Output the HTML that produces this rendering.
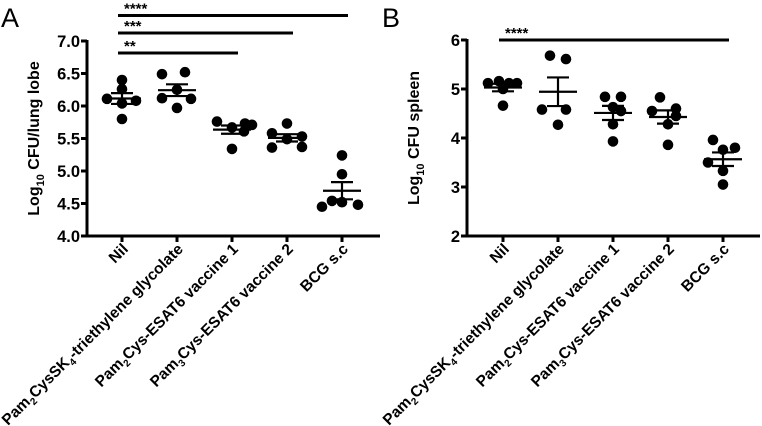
<!DOCTYPE html>
<html><head><meta charset="utf-8"><style>
html,body{margin:0;padding:0;background:#fff}
svg{display:block;font-family:"Liberation Sans",Arial,sans-serif}
</style></head><body>
<svg id="chart" width="762" height="426" viewBox="0 0 762 426"></svg>
<script>
const categories = ["Nil","Pam2CysSK4-triethylene glycolate","Pam2Cys-ESAT6 vaccine 1","Pam3Cys-ESAT6 vaccine 2","BCG s.c"];
const lungValues = [
 [6.40,6.26,6.11,6.08,6.04,5.80],
 [6.49,6.52,6.25,6.12,6.11,5.97],
 [5.76,5.73,5.71,5.67,5.61,5.34],
 [5.58,5.73,5.53,5.49,5.36,5.37],
 [5.24,4.95,4.54,4.52,4.45,4.48]
];
const spleenValues = [
 [5.12,5.16,5.12,5.12,5.00,4.66],
 [5.68,5.61,4.58,4.58,4.27],
 [4.84,4.84,4.63,4.55,4.28,3.93],
 [4.83,4.60,4.55,4.45,4.28,3.86],
 [3.96,3.80,3.76,3.50,3.33,3.05]
];
const lungTicks = [4.0,4.5,5.0,5.5,6.0,6.5,7.0];
const spleenTicks = [2,3,4,5,6];
const lungSig = [{from:0,to:4,label:"****"},{from:0,to:3,label:"***"},{from:0,to:2,label:"**"}];
const spleenSig = [{from:0,to:4,label:"****"}];

const NS="http://www.w3.org/2000/svg";
const svg=document.getElementById('chart');
function el(tag,attrs,parent,text){const e=document.createElementNS(NS,tag);for(const k in attrs)e.setAttribute(k,attrs[k]);if(text!==undefined)e.textContent=text;(parent||svg).appendChild(e);return e;}

function panel(opt){
  const g=el('g',{});
  
  
  const y=v=>opt.y1+(opt.vmax-v)/(opt.vmax-opt.vmin)*(opt.y0-opt.y1);
  const x=i=>opt.cx0+i*opt.step;
  const lt=el('text',{x:opt.letterX,y:27,'font-size':27},g,opt.letter);
  
  
  const ya=el('line',{x1:opt.ax,x2:opt.ax,y1:opt.y1-1,y2:opt.y0+1.5,stroke:'#000','stroke-width':3},g);
  
  
  const xa=el('line',{x1:opt.ax-1.5,x2:opt.xend,y1:opt.y0,y2:opt.y0,stroke:'#000','stroke-width':3},g);
  
  
  opt.ticks.forEach(t=>{
    el('line',{x1:opt.ax-6,x2:opt.ax,y1:y(t),y2:y(t),stroke:'#000','stroke-width':3},g);
    const tl=el('text',{x:opt.ax-7,y:y(t)+6,'font-size':16.5,'font-weight':'bold','text-anchor':'end'},g,opt.fmt(t));
    
    
  });
  const yt=el('text',{transform:`translate(${opt.ax-48},${(opt.y0+opt.y1)/2}) rotate(-90)`,'font-size':16,'font-weight':'bold','text-anchor':'middle'},g);
  
  
  el('tspan',{},yt,'Log');
  el('tspan',{dy:5,'font-size':11},yt,'10');
  el('tspan',{dy:-5},yt,' '+opt.ytitle);
  const labelParts=[[["Nil"]],[["Pam"],["2","s"],["CysSK"],["4","s"],["-triethylene glycolate"]],[["Pam"],["2","s"],["Cys-ESAT6 vaccine 1"]],[["Pam"],["3","s"],["Cys-ESAT6 vaccine 2"]],[["BCG s.c"]]];
  categories.forEach((c,i)=>{
    el('line',{x1:x(i),x2:x(i),y1:opt.y0,y2:opt.y0+6,stroke:'#000','stroke-width':3},g);
    const t=el('text',{transform:`translate(${x(i)+7},${opt.y0+14}) rotate(-45)`,'font-size':15.5,'font-weight':'bold','text-anchor':'end'},g);
    
    
    let sub=false;
    labelParts[i].forEach(p=>{
      if(p[1]==='s'){el('tspan',{dy:4,'font-size':10},t,p[0]);sub=true;}
      else{el('tspan',sub?{dy:-4}:{},t,p[0]);sub=false;}
    });
  });
  opt.data.forEach((vals,i)=>{
    const offs=opt.offsets[i];
    vals.forEach((v,j)=>{
      const d=el('circle',{cx:x(i)+offs[j],cy:y(v),r:5.3,fill:'#000'},g);
      
      
    });
    const n=vals.length,m=vals.reduce((a,b)=>a+b,0)/n;
    const sd=Math.sqrt(vals.reduce((a,b)=>a+(b-m)*(b-m),0)/(n-1)),se=sd/Math.sqrt(n);
    const ml=el('line',{x1:x(i)-19,x2:x(i)+19,y1:y(m),y2:y(m),stroke:'#000','stroke-width':2.2},g);
    
    
    el('line',{x1:x(i),x2:x(i),y1:y(m+se),y2:y(m-se),stroke:'#000','stroke-width':2.2},g);
    el('line',{x1:x(i)-11,x2:x(i)+11,y1:y(m+se),y2:y(m+se),stroke:'#000','stroke-width':2.2},g);
    el('line',{x1:x(i)-11,x2:x(i)+11,y1:y(m-se),y2:y(m-se),stroke:'#000','stroke-width':2.2},g);
  });
  opt.sig.forEach((s,k)=>{
    const yy=opt.sigY[k];
    const b=el('line',{x1:x(s.from)-4,x2:x(s.to)+6,y1:yy,y2:yy,stroke:'#000','stroke-width':3},g);
    
    
    const st=el('text',{x:x(s.from)+2,y:yy-2,'font-size':15,'font-weight':'bold'},g,s.label);
    
    
  });
}
panel({name:'panel-a-lung',letter:'A',letterX:1,ax:87,xend:380,y0:236,y1:41,vmin:4,vmax:7,cx0:122,step:55,
  ticks:lungTicks,fmt:t=>t.toFixed(1),ytitle:'CFU/lung lobe',data:lungValues,sig:lungSig,sigY:[15.5,33,53],
  offsets:[[0,0,-15,14,0,0],[-15,8,0,-15,14,0],[-15,13,20,0,12,0],[-15,0,15,0,-15,15],[0,0,-10,0,-20,16]]});
panel({name:'panel-b-spleen',letter:'B',letterX:382,ax:467,xend:760,y0:236,y1:40,vmin:2,vmax:6,cx0:503,step:55,
  ticks:spleenTicks,fmt:t=>String(t),ytitle:'CFU spleen',data:spleenValues,sig:spleenSig,sigY:[40],
  offsets:[[-15,-4,6,14,0,0],[-8,8,-16,8,0],[-8,8,0,8,0,0],[-8,8,-16,8,0,0],[-10,12,0,-15,0,0]]});
</script>
</body></html>
